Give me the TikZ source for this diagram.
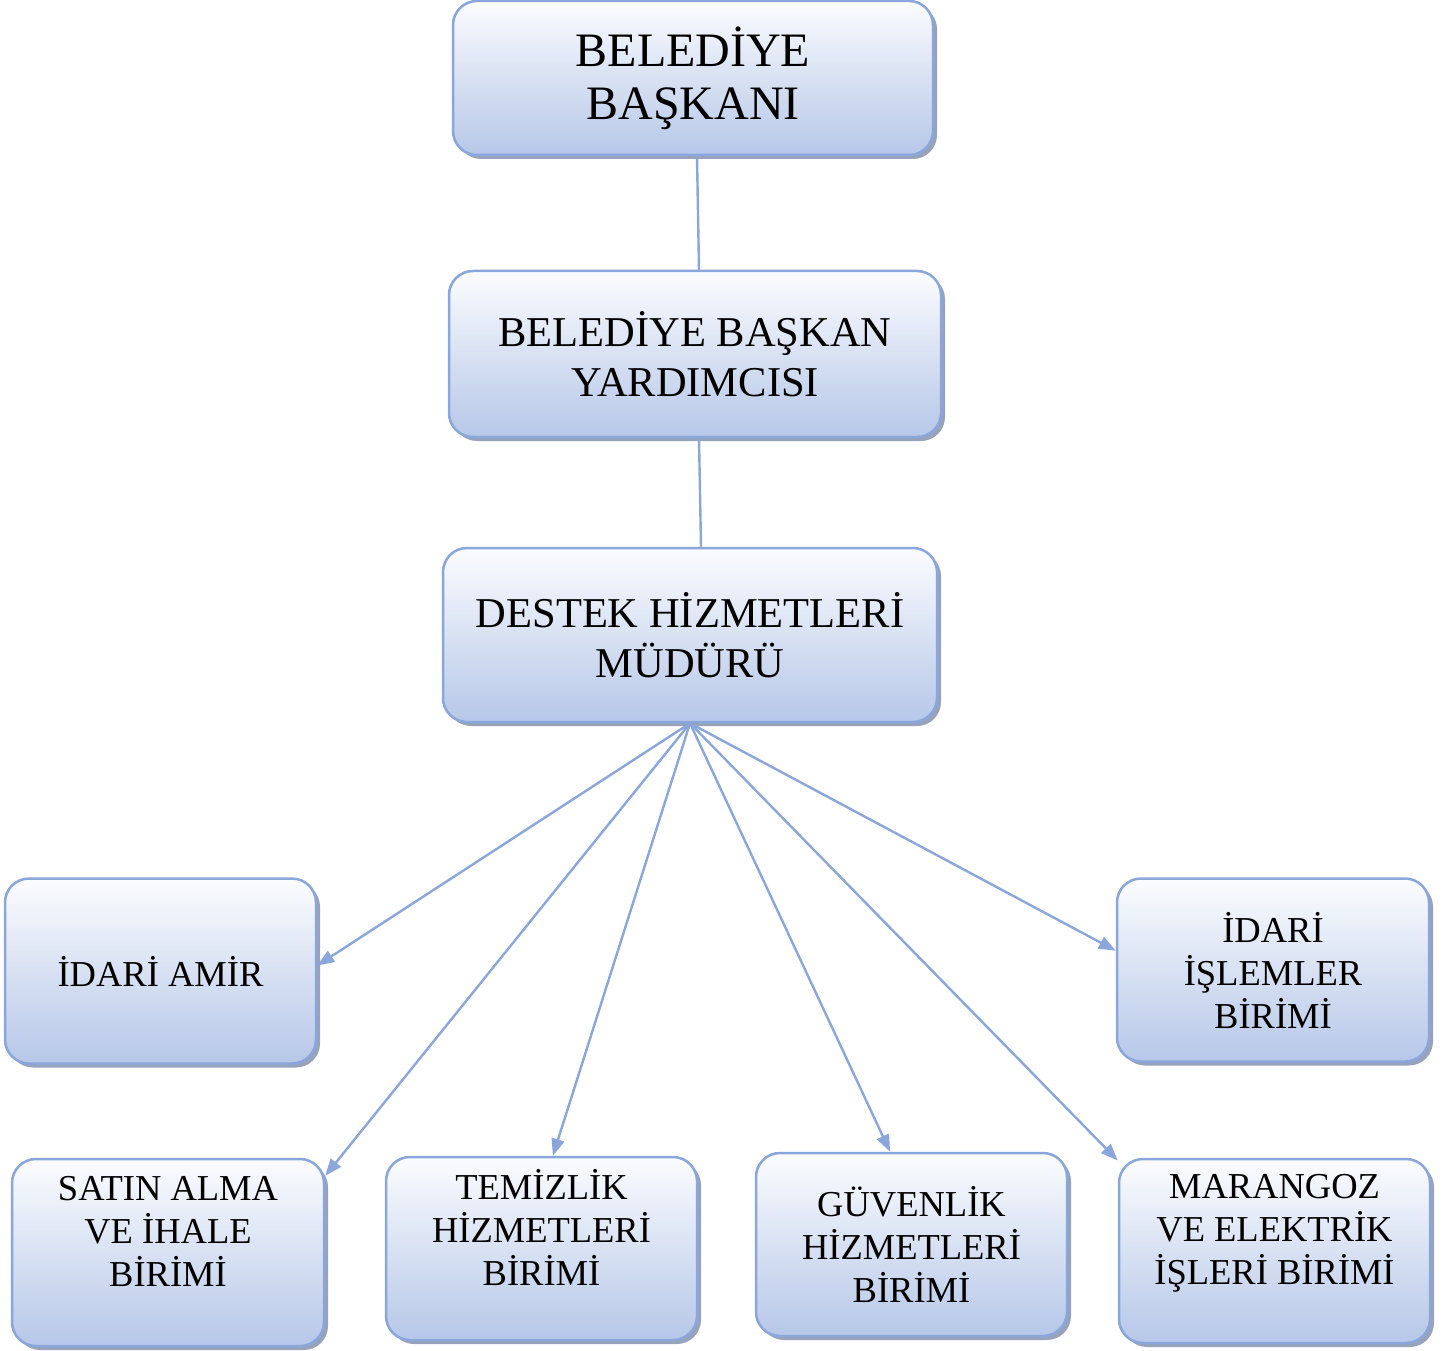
\documentclass[tikz,border=0pt]{standalone}
\usepackage{fontspec}
\setmainfont{Liberation Serif}
\usetikzlibrary{shadows,arrows.meta,calc}
\definecolor{bord}{HTML}{8AA6DA}
\definecolor{topc}{HTML}{FBFCFE}
\definecolor{botc}{HTML}{B6C7E8}
\definecolor{shadc}{HTML}{97A3BB}
\tikzset{
  box/.style={draw=bord, line width=2.5pt, rounded corners=24pt, top color=topc, bottom color=botc,
    align=center, inner sep=0pt,
    drop shadow={shadow xshift=4pt, shadow yshift=-4pt, fill=shadc, opacity=1}},
  bigtxt/.style={font=\fontsize{48}{53}\selectfont},
  midtxt/.style={font=\fontsize{42.5}{50}\selectfont},
  smalltxt/.style={font=\fontsize{36.5}{43}\selectfont},
  conn/.style={draw=bord, line width=2.4pt},
  arr/.style={conn, -{Triangle[length=17pt,width=13pt]}}
}
\begin{document}
\begin{tikzpicture}[x=1pt,y=-1pt]
\useasboundingbox (0,0) rectangle (1449,1351);
\node[box,bigtxt,minimum width=480pt,minimum height=154pt] (bas) at (693,78) {BELEDİYE\\BAŞKANI};
\node[box,midtxt,minimum width=492pt,minimum height=166pt] (yrd) at (695,354) {BELEDİYE BAŞKAN\\YARDIMCISI};
\node[box,midtxt,minimum width=494pt,minimum height=174pt] (dst) at (690,635) {DESTEK HİZMETLERİ\\MÜDÜRÜ};
\node[box,smalltxt,minimum width=311pt,minimum height=185pt] (amr) at (160.5,971) {İDARİ AMİR};
\node[box,smalltxt,minimum width=312pt,minimum height=183pt] (isl) at (1273,970) {İDARİ\\İŞLEMLER\\BİRİMİ};
\node[box,smalltxt,minimum width=312pt,minimum height=187pt] (sat) at (168,1252.5) {SATIN ALMA\\VE İHALE\\BİRİMİ\\\mbox{}};
\node[box,smalltxt,minimum width=311pt,minimum height=183pt] (tem) at (541.5,1248.5) {TEMİZLİK\\HİZMETLERİ\\BİRİMİ\\\mbox{}};
\node[box,smalltxt,minimum width=311pt,minimum height=183pt] (guv) at (911.5,1244.5) {GÜVENLİK\\HİZMETLERİ\\BİRİMİ};
\node[box,smalltxt,minimum width=311pt,minimum height=184pt] (mar) at (1274.5,1251) {MARANGOZ\\VE ELEKTRİK\\İŞLERİ BİRİMİ\\\mbox{}};
\draw[conn] ($(bas.south)+(4,0)$) -- ($(yrd.north)+(4,0)$);
\draw[conn] ($(yrd.south)+(4,0)$) -- ($(dst.north)+(11,0)$);
\draw[arr] (dst.south) -- (amr.2.4);
\draw[arr] (dst.south) -- (sat.26);
\draw[arr] (dst.south) -- (tem.83.5);
\draw[arr] (dst.south) -- (guv.103);
\draw[arr] (dst.south) -- (mar.150.6);
\draw[arr] (dst.south) -- (isl.173.4);
\end{tikzpicture}
\end{document}
